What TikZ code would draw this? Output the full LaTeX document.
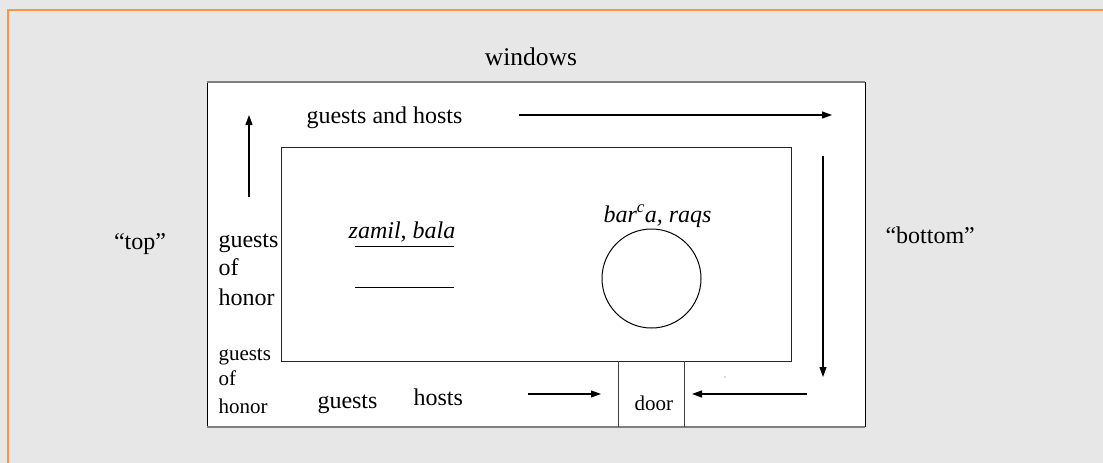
\documentclass[tikz,border=0pt]{standalone}
\usepackage{fontspec}
\setmainfont{Liberation Serif}
\newfontfamily\timesf{Liberation Serif}
\usetikzlibrary{arrows.meta}
\definecolor{bg}{HTML}{E7E7E7}
\definecolor{frameorange}{HTML}{F79646}
\definecolor{edgegray}{HTML}{7F7F7F}
\begin{document}
\begin{tikzpicture}[x=1pt,y=-1pt, line width=1pt,
  lbl/.style={inner sep=0pt, font=\timesf\fontsize{24}{29}\selectfont},
  wlbl/.style={inner sep=0pt, font=\timesf\fontsize{25.5}{29}\selectfont},
  slbl/.style={inner sep=0pt, font=\timesf\fontsize{21}{26}\selectfont},
  ilbl/.style={inner sep=0pt, font=\timesf\itshape\fontsize{24}{29}\selectfont},
  flow/.style={-{Triangle[length=10pt,width=7pt]}, line width=1.1pt}]
\fill[bg] (0,0) rectangle (1103,463);
\useasboundingbox (0,0) rectangle (1103,463);
\draw[frameorange, line width=1.5pt] (8,470) -- (8,10) -- (1110,10);
% room
\coordinate (o1) at (207,82);
\coordinate (o2) at (865,82);
\coordinate (o3) at (865,427);
\coordinate (o4) at (207,427);
\fill[white] (o1) rectangle (o3);
\draw[black] (o1) -- (o4) (o2) -- (o3);
\draw[edgegray, line width=2pt] (o1) -- (o2) (o4) -- (o3);
% inner block
\coordinate (i1) at (281,147);
\coordinate (i3) at (791,361);
\draw[black!85] (i1) rectangle (i3);
% door
\coordinate (d1) at (618,361);
\coordinate (d2) at (618,427);
\coordinate (d3) at (684,361);
\coordinate (d4) at (684,427);
\draw[black!75] (d1) -- (d2) (d3) -- (d4);
\node[slbl, anchor=base west] (door) at (634,410) {door};
% labels
\node[wlbl, anchor=base] (windows) at (531,65) {windows};
\node[lbl, anchor=base west] (gh) at (306,123) {guests and hosts};
\node[lbl, anchor=base] (top) at (140,249) {“top”};
\node[lbl, anchor=base west] (bottom) at (885,243) {“bottom”};
\node[lbl, anchor=base west] (goh1) at (218,247) {guests};
\node[lbl, anchor=base west] (goh2) at (218,275) {of};
\node[lbl, anchor=base west] (goh3) at (218,305) {honor};
\node[slbl, anchor=base west] (sgoh1) at (218,360) {guests};
\node[slbl, anchor=base west] (sgoh2) at (218,385) {of};
\node[slbl, anchor=base west] (sgoh3) at (218,413) {honor};
\node[lbl, anchor=base west] (guests) at (317,408) {guests};
\node[lbl, anchor=base west] (hosts) at (413,405) {hosts};
\node[ilbl, anchor=base] (zb) at (402,238) {zamil, bala};
\node[ilbl, anchor=base west] (br) at (603,222) {bar\textsuperscript{c}a, raqs};
% table lines and dance circle
\draw (355,246) -- (454,246);
\draw (355,287) -- (454,287);
\draw (651.5,278.5) circle[radius=49.5pt];
\fill[black!60] (725,377) circle[radius=0.6pt];
% flow arrows
\coordinate (a1s) at (249,197); \coordinate (a1e) at (249,115);
\coordinate (a2s) at (519,115); \coordinate (a2e) at (832,115);
\coordinate (a3s) at (823,156); \coordinate (a3e) at (823,377);
\coordinate (a4s) at (807,394); \coordinate (a4e) at (692,394);
\coordinate (a5s) at (528,394); \coordinate (a5e) at (601,394);
\draw[flow] (a1s) -- (a1e);
\draw[flow] (a2s) -- (a2e);
\draw[flow] (a3s) -- (a3e);
\draw[flow] (a4s) -- (a4e);
\draw[flow] (a5s) -- (a5e);
\end{tikzpicture}
\end{document}
